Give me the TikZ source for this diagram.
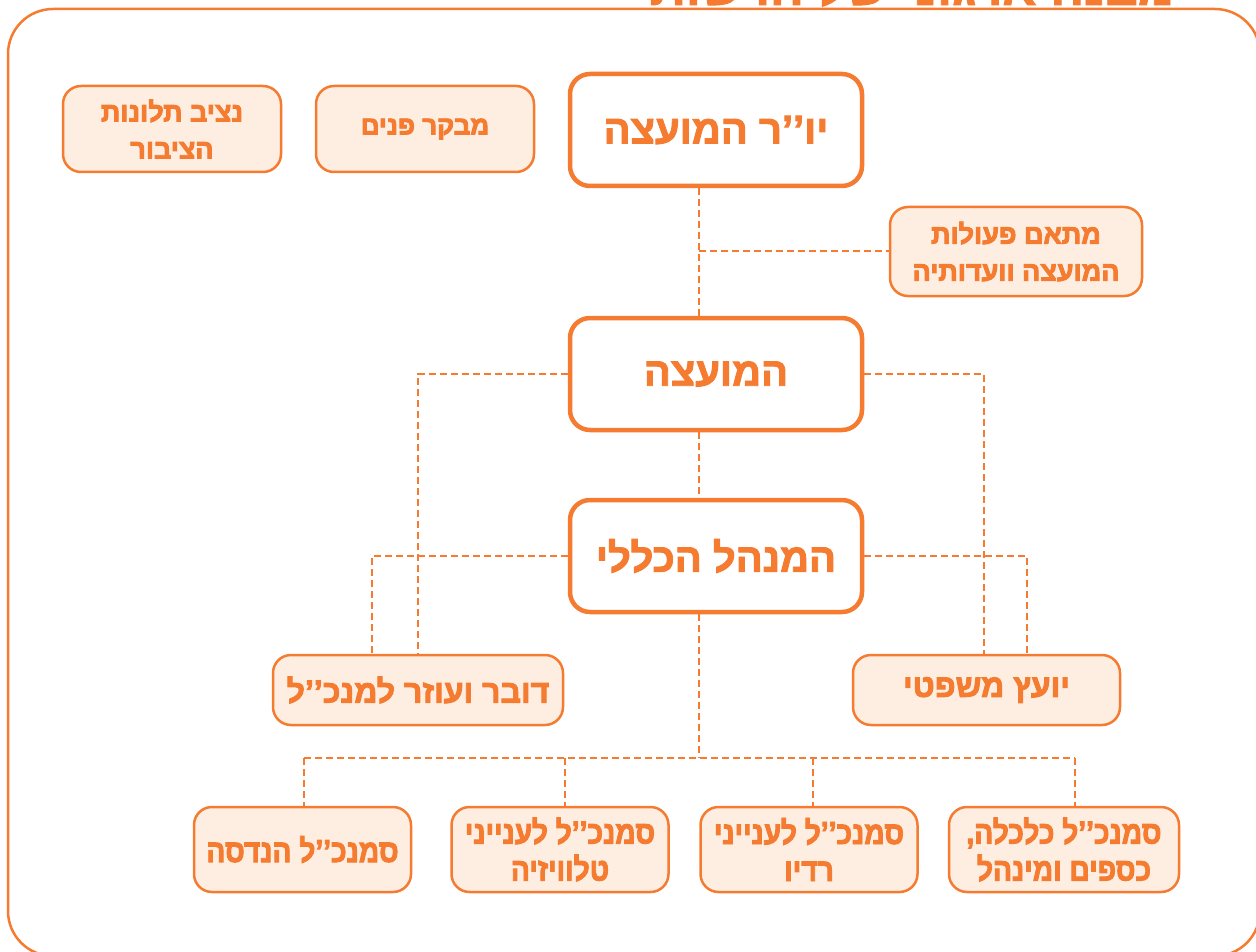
\documentclass[tikz,border=0pt]{standalone}
\usepackage{fontspec}
\TeXXeTstate=1
\newfontfamily\heb[Script=Hebrew]{Liberation Sans}
\newfontfamily\hebn[Script=Hebrew,FakeStretch=0.88]{Liberation Sans}
\newcommand\hb[1]{\special{pdf:literal direct 2 Tr 0.9 w}\beginR #1\endR\special{pdf:literal direct 0 Tr}}
\definecolor{org}{HTML}{F47B2F}
\definecolor{lfill}{HTML}{FDEEE1}
\tikzset{
  mainbox/.style={draw=org, line width=4.5pt, fill=white, rounded corners=20pt,
    minimum width=292pt, minimum height=112pt, text=org, inner sep=0pt,
    font=\heb\bfseries\fontsize{40}{44}\selectfont},
  subbox/.style={draw=org, line width=2.5pt, fill=lfill, rounded corners=18pt,
    text=org, align=center, inner sep=0pt,
    font=\heb\bfseries\fontsize{27}{37}\selectfont},
  lowbox/.style={subbox, minimum width=217pt, minimum height=85pt,
    font=\hebn\bfseries\fontsize{32}{37}\selectfont},
  conn/.style={draw=org, line width=2pt, dash pattern=on 7pt off 4pt},
  frame/.style={draw=org, line width=2.5pt, rounded corners=45pt},
  titlestyle/.style={text=org, inner sep=0pt, anchor=base,
    font=\heb\bfseries\fontsize{50}{54}\selectfont}
}
\begin{document}
\begin{tikzpicture}[x=1pt,y=-1pt]
\useasboundingbox (0,0) rectangle (1256,952);
\draw[frame] (8,9) rectangle (1260,956);
\node[titlestyle] (title) at (912,5) {\hb{מבנה ארגוני של הרשות}};

% main boxes
\node[mainbox] (chair) at (716,130) {\hb{יו’’ר המועצה}};
\node[mainbox] (council) at (716,374) {\hb{המועצה}};
\node[mainbox] (gm) at (716,556) {\hb{המנהל הכללי}};

% side boxes
\node[subbox, minimum width=218pt, minimum height=86pt] (ombud) at (172,129) {\hb{נציב תלונות}\\\hb{הציבור}};
\node[subbox, minimum width=218pt, minimum height=86pt, font=\heb\bfseries\fontsize{26}{37}\selectfont] (auditor) at (425,129) {\hb{מבקר פנים}};
\node[subbox, minimum width=252pt, minimum height=89pt] (coord) at (1016,251.5) {\hb{מתאם פעולות}\\\hb{המועצה וועדותיה}};
\node[subbox, minimum width=290pt, minimum height=70pt, font=\heb\bfseries\fontsize{32}{34}\selectfont] (spokes) at (418,690) {\hb{דובר ועוזר למנכ’’ל}};
\node[subbox, minimum width=267pt, minimum height=70pt, font=\heb\bfseries\fontsize{32}{34}\selectfont] (legal) at (986.5,690) {\hb{יועץ משפטי}};

% bottom row
\node[lowbox] (eng) at (302.5,849.5) {\hb{סמנכ’’ל הנדסה}};
\node[lowbox] (tv) at (560,849.5) {\hb{סמנכ’’ל לענייני}\\\hb{טלוויזיה}};
\node[lowbox] (radio) at (809,849.5) {\hb{סמנכ’’ל לענייני}\\\hb{רדיו}};
\node[lowbox, minimum width=230pt] (fin) at (1064,849.5) {\hb{סמנכ’’ל כלכלה,}\\\hb{כספים ומינהל}};

% coordinates
\coordinate (spine) at (699,0);
\coordinate (bus) at (699,758);
\coordinate (d1) at (304,758);
\coordinate (d2) at (565,758);
\coordinate (d3) at (813,758);
\coordinate (d4) at (1075,758);
\coordinate (sl1) at (418,0);
\coordinate (sl2) at (372,0);
\coordinate (sr1) at (984,0);
\coordinate (sr2) at (1027,0);

% connectors
\draw[conn] (chair.south -| spine) -- (council.north -| spine);
\draw[conn] (spine |- coord.west) -- (coord.west);
\draw[conn] (council.south -| spine) -- (gm.north -| spine);
\draw[conn] (council.west) -| (spokes.north -| sl1);
\draw[conn] (gm.west) -| (spokes.north -| sl2);
\draw[conn] (council.east) -| (legal.north -| sr1);
\draw[conn] (gm.east) -| (legal.north -| sr2);
\draw[conn] (gm.south -| spine) -- (bus);
\draw[conn] (d1) -- (d4);
\draw[conn] (d1) -- (eng.north -| d1);
\draw[conn] (d2) -- (tv.north -| d2);
\draw[conn] (d3) -- (radio.north -| d3);
\draw[conn] (d4) -- (fin.north -| d4);
\end{tikzpicture}
\end{document}
